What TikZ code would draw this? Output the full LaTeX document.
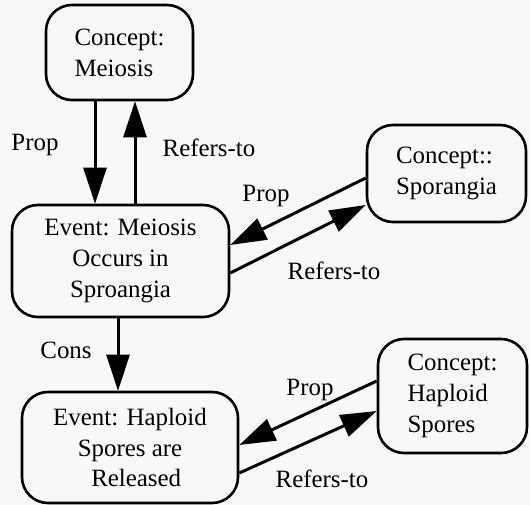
\documentclass[tikz,border=0pt]{standalone}
\usepackage{fontspec}
\setmainfont{Liberation Serif}
\usetikzlibrary{arrows.meta,calc}
\definecolor{bg}{RGB}{248,248,248}
\begin{document}
\begin{tikzpicture}[x=1bp,y=-1bp,
  box/.style={draw, line width=2.6bp, rounded corners=26bp, inner sep=0pt,
    font=\fontsize{25}{31}\selectfont},
  arr/.style={line width=3bp, -{Triangle[length=36bp,width=23bp]}},
  lbl/.style={font=\fontsize{25}{31}\selectfont, inner sep=0pt}]
\fill[bg] (0,0) rectangle (530,505);
\useasboundingbox (0,0) rectangle (530,505);
\node[box, minimum width=147bp, minimum height=95bp, align=left] (n1) at (119.5,52.5) {Concept:\\Meiosis};
\node[box, minimum width=217bp, minimum height=112bp, align=center] (n2) at (120.5,261) {Event: Meiosis\\Occurs in\\Sproangia};
\node[box, minimum width=159bp, minimum height=97bp, align=left] (n3) at (446.5,173.5) {Concept::\\Sporangia};
\node[box, minimum width=216bp, minimum height=111bp, align=center] (n4) at (130,447.5) {Event: Haploid\\Spores are\\\ \ Released};
\node[box, minimum width=149bp, minimum height=114bp, align=left] (n5) at (452.5,396) {Concept:\\Haploid\\Spores};
% anchor points for vertical arrows
\coordinate (p1) at ($(n1.south)+(-24.5,0)$);
\coordinate (p2) at ($(n1.south)+(15.5,0)$);
\coordinate (p3) at ($(n2.south)+(-2.5,0)$);
\coordinate (q1) at (p1 |- n2.north);
\coordinate (q2) at (p2 |- n2.north);
\coordinate (q3) at (p3 |- n4.north);
\draw[arr] (p1) -- (q1);
\draw[arr] (q2) -- (p2);
\draw[arr] (p3) -- (q3);
% diagonal arrows
\draw[arr] ($(n3.west)+(0,4.5)$) -- ($(n2.east)+(0,-16)$);
\draw[arr] ($(n2.east)+(0,12)$) -- ($(n3.west)+(0,31.5)$);
\draw[arr] ($(n5.west)+(0,-15)$) -- ($(n4.east)+(0,-2.5)$);
\draw[arr] ($(n4.east)+(0,25.5)$) -- ($(n5.west)+(0,15)$);
% labels
\node[lbl] (l1) at (35,145) {Prop};
\node[lbl] (l2) at (209,148) {Refers-to};
\node[lbl] (l3) at (266,196) {Prop};
\node[lbl] (l4) at (334,271) {Refers-to};
\node[lbl] (l5) at (66,350) {Cons};
\node[lbl] (l6) at (310,390) {Prop};
\node[lbl] (l7) at (322,479) {Refers-to};
\end{tikzpicture}
\end{document}
